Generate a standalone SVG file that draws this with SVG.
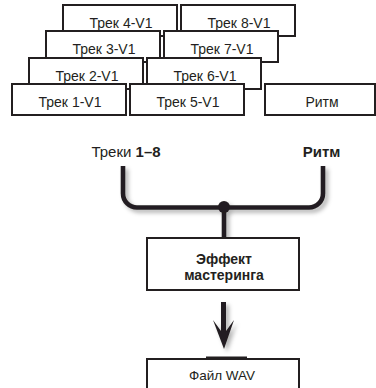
<svg xmlns="http://www.w3.org/2000/svg" width="376" height="388" viewBox="0 0 376 388">
<defs>
<style>
.box{fill:#fff;stroke:#231f20;stroke-width:2}
.t{font-family:"Liberation Sans",Arial,sans-serif;font-size:14px;fill:#231f20;text-anchor:middle}
.b{font-weight:bold}
.ln{fill:none;stroke:#231f20;stroke-width:4.6}
</style>
<filter id="sh" x="-20%" y="-20%" width="140%" height="160%">
<feDropShadow dx="3" dy="3" stdDeviation="2.2" flood-color="#000" flood-opacity="0.3"/>
</filter>
</defs>
<rect width="376" height="388" fill="#fff"/>
<g id="track4"><rect class="box" x="63" y="5" width="114" height="31"/><text class="t" x="121" y="27.5">Трек 4-V1</text></g>
<g id="track8"><rect class="box" x="181" y="5" width="114" height="31"/><text class="t" x="239" y="27.5">Трек 8-V1</text></g>
<g id="track3"><rect class="box" x="46" y="31" width="114" height="31"/><text class="t" x="104" y="53.5">Трек 3-V1</text></g>
<g id="track7"><rect class="box" x="164" y="31" width="114" height="31"/><text class="t" x="222" y="53.5">Трек 7-V1</text></g>
<g id="track2"><rect class="box" x="29" y="58" width="114" height="31"/><text class="t" x="87" y="80.5">Трек 2-V1</text></g>
<g id="track6"><rect class="box" x="147" y="58" width="114" height="31"/><text class="t" x="205" y="80.5">Трек 6-V1</text></g>
<g id="track1"><rect class="box" x="12" y="84" width="114" height="31"/><text class="t" x="70" y="106.5">Трек 1-V1</text></g>
<g id="track5"><rect class="box" x="130" y="84" width="114" height="31"/><text class="t" x="188" y="106.5">Трек 5-V1</text></g>
<g id="rhythm"><rect class="box" x="265" y="84" width="110" height="31"/><text class="t" x="322" y="106.5">Ритм</text></g>
<g id="label-tracks"><text class="t" x="126" y="157" style="font-size:15px">Треки <tspan class="b">1–8</tspan></text></g>
<g id="label-rhythm"><text class="t b" x="321.5" y="157" style="font-size:15px">Ритм</text></g>
<g id="connectors" filter="url(#sh)">
<path class="ln" d="M123,166 V193.5 A14,14 0 0 0 137,207.5 H309 A14,14 0 0 0 323,193.5 V166"/>
<line class="ln" x1="224" y1="207" x2="224" y2="238"/>
<circle cx="224" cy="207" r="6" fill="#231f20"/>
<path d="M221,302 H226 V331 L234,320 L224,349 L213,320 L221,331 Z" fill="#231f20"/>
</g>
<g id="mastering"><rect class="box" x="147" y="238" width="152" height="52"/><text class="t b" x="224" y="264">Эффект</text><text class="t b" x="224" y="280">мастеринга</text></g>
<g id="wav"><rect class="box" x="147" y="359" width="152" height="36"/><line x1="206" y1="357.5" x2="247" y2="357.5" stroke="#231f20" stroke-width="2"/><text class="t" x="222" y="380" style="font-size:13.5px">Файл WAV</text></g>
</svg>
